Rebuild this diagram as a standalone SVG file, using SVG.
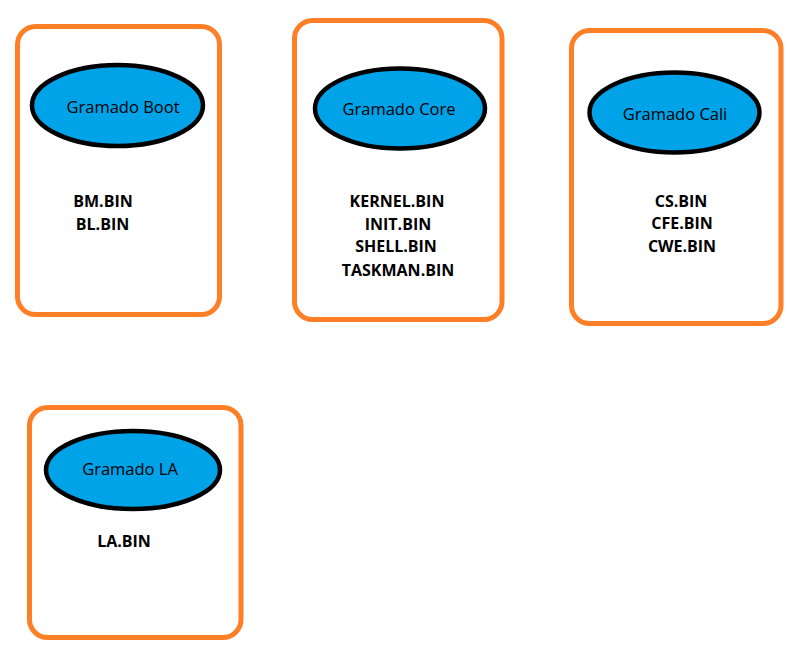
<svg xmlns="http://www.w3.org/2000/svg" width="800" height="656" viewBox="0 0 800 656">
<style>
.box{fill:#fff;stroke:#FF7F27;stroke-width:5}
.ell{fill:#00A2E8;stroke:#000;stroke-width:4.5}
.title{font-family:"Open Sans","Noto Sans",sans-serif;font-size:16.5px;fill:#000;text-anchor:middle}
.lbl{font-family:"Open Sans","Noto Sans",sans-serif;font-size:16px;font-weight:bold;fill:#000;text-anchor:middle}
</style>
<rect width="800" height="656" fill="#fff"/>
<g id="boot">
<rect class="box" x="17.5" y="26.5" width="202" height="288" rx="18"/>
<ellipse class="ell" cx="117.5" cy="105.5" rx="85.5" ry="40.5"/>
<text class="title" x="123" y="113">Gramado Boot</text>
<text class="lbl" x="103" y="207">BM.BIN</text>
<text class="lbl" x="102.5" y="230">BL.BIN</text>
</g>
<g id="core">
<rect class="box" x="294.5" y="20.5" width="207.5" height="299" rx="18"/>
<ellipse class="ell" cx="400" cy="108.5" rx="85" ry="40"/>
<text class="title" x="399" y="115">Gramado Core</text>
<text class="lbl" x="397" y="207">KERNEL.BIN</text>
<text class="lbl" x="398" y="230">INIT.BIN</text>
<text class="lbl" x="396" y="252">SHELL.BIN</text>
<text class="lbl" x="398" y="276">TASKMAN.BIN</text>
</g>
<g id="cali">
<rect class="box" x="571.5" y="30.5" width="209.5" height="293" rx="18"/>
<ellipse class="ell" cx="674.5" cy="112.5" rx="85" ry="40"/>
<text class="title" x="675" y="120">Gramado Cali</text>
<text class="lbl" x="681" y="207">CS.BIN</text>
<text class="lbl" x="682" y="229">CFE.BIN</text>
<text class="lbl" x="682" y="252">CWE.BIN</text>
</g>
<g id="la">
<rect class="box" x="29.5" y="407.5" width="211.5" height="230" rx="18"/>
<ellipse class="ell" cx="133" cy="470" rx="87" ry="39"/>
<text class="title" x="130" y="475">Gramado LA</text>
<text class="lbl" x="124" y="547">LA.BIN</text>
</g>
<g id="connectors"/>
</svg>
